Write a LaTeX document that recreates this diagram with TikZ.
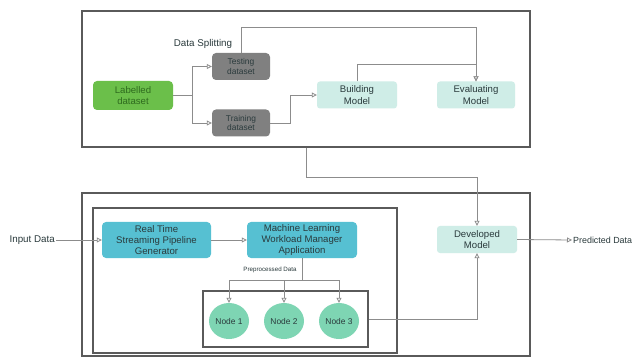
\documentclass[tikz,border=0pt]{standalone}
\usepackage{fontspec}
\setmainfont{Liberation Sans}
\usetikzlibrary{arrows.meta,shapes.geometric}

\definecolor{framegray}{HTML}{5A5A5A}
\definecolor{wiregray}{HTML}{8C8C8C}
\definecolor{leafgreen}{HTML}{6BBF4A}
\definecolor{leafdark}{HTML}{2E6B1E}
\definecolor{splitgray}{HTML}{808080}
\definecolor{mintpale}{HTML}{CFEDE7}
\definecolor{teal}{HTML}{56C0D2}
\definecolor{nodemint}{HTML}{7ED5B3}
\definecolor{inkdark}{HTML}{2A3A3C}

\tikzset{
  frame/.style={draw=framegray, line width=1.3pt, minimum width=#1},
  wire/.style={draw=wiregray, line width=0.8pt},
  arr/.style={wire, -{Triangle[open,length=5pt,width=5pt]}},
  boxtext/.style={font=\fontsize{9.6}{11.2}\selectfont, align=center, inner sep=0pt},
  greenbox/.style={boxtext, rectangle, rounded corners=4pt, fill=leafgreen, text=leafdark,
    minimum width=80pt, minimum height=29pt},
  graybox/.style={boxtext, font=\fontsize{8.4}{9.6}\selectfont, rectangle, rounded corners=4pt,
    fill=splitgray, text=inkdark, minimum width=58pt, minimum height=27pt},
  palebox/.style={boxtext, rectangle, rounded corners=3pt, fill=mintpale, text=inkdark,
    minimum width=80pt, minimum height=27pt},
  tealbox/.style={boxtext, rectangle, rounded corners=4pt, fill=teal, text=inkdark,
    minimum width=110pt, minimum height=36pt},
  worker/.style={boxtext, font=\fontsize{8.4}{9.6}\selectfont, ellipse, fill=nodemint,
    text=inkdark, minimum width=40pt, minimum height=36pt},
  plain/.style={font=\fontsize{9.8}{11}\selectfont, text=inkdark, inner sep=1pt}
}

\begin{document}
\begin{tikzpicture}[x=1pt, y=-1pt]
\useasboundingbox (0,0) rectangle (637,358);
\clip (0,0) rectangle (637,358);
\fill[white] (0,0) rectangle (637,358);

% training stage frame
\node[frame=448pt, minimum height=136pt] (topbox) at (306,79) {};
% deployment frame and its nested groups
\node[frame=448pt, minimum height=163pt] (botbox) at (306,274.5) {};
\node[frame=304pt, minimum height=145pt] (innerbox) at (245,280.5) {};
\node[frame=165pt, minimum height=56pt] (nodebox) at (285.5,319) {};

% training stage
\node[greenbox] (labelled) at (133,95.5) {Labelled\\dataset};
\node[graybox] (testing) at (241,66.5) {Testing\\dataset};
\node[graybox] (training) at (241,123) {Training\\dataset};
\node[palebox] (building) at (357,95) {Building\\Model};
\node[palebox, minimum width=78pt] (evaluating) at (476,95) {Evaluating\\Model};
\node[plain] (split) at (203,44) {Data Splitting};

% deployment stage
\node[plain, anchor=east] (input) at (56,240) {Input Data};
\node[tealbox, minimum width=109pt] (rt) at (156.5,240) {Real Time\\Streaming Pipeline\\Generator};
\node[tealbox] (ml) at (302,240) {Machine Learning\\Workload Manager\\Application};
\node[worker] (n1) at (229,321) {Node 1};
\node[worker] (n2) at (284,321) {Node 2};
\node[worker] (n3) at (339,321) {Node 3};
\node[palebox] (developed) at (477,239.5) {Developed\\Model};
\node[plain, font=\fontsize{8.9}{10}\selectfont, anchor=west] (predicted) at (572,240) {Predicted Data};
\node[font=\fontsize{6.2}{7}\selectfont, text=inkdark, inner sep=0.5pt] (prep) at (270,270) {Preprocessed Data};

% training stage wiring
\draw[arr] (labelled.east) -- ++(19,0) |- (testing.west);
\draw[arr] (labelled.east) -- ++(19,0) |- (training.west);
\draw[arr] (testing.north) -- ++(0,-25) -| (evaluating.north);
\draw[arr] (building.north) -- ++(0,-17) -| (evaluating.north);
\draw[arr] (training.east) -- ++(20,0) |- (building.west);
\draw[arr] (topbox.south) -- ++(0,30) -| (developed.north);

% deployment wiring
\draw[arr] (input.east) -- (rt.west);
\draw[arr] (rt.east) -- (ml.west);
\draw[arr] (ml.south) -- ++(0,22) -| (n1.north);
\draw[arr] (ml.south) -- ++(0,22) -| (n2.north);
\draw[arr] (ml.south) -- ++(0,22) -| (n3.north);
\draw[arr] (nodebox.east) -| (developed.south);
\draw[arr] (developed.east) -- (predicted.west);
\end{tikzpicture}
\end{document}
